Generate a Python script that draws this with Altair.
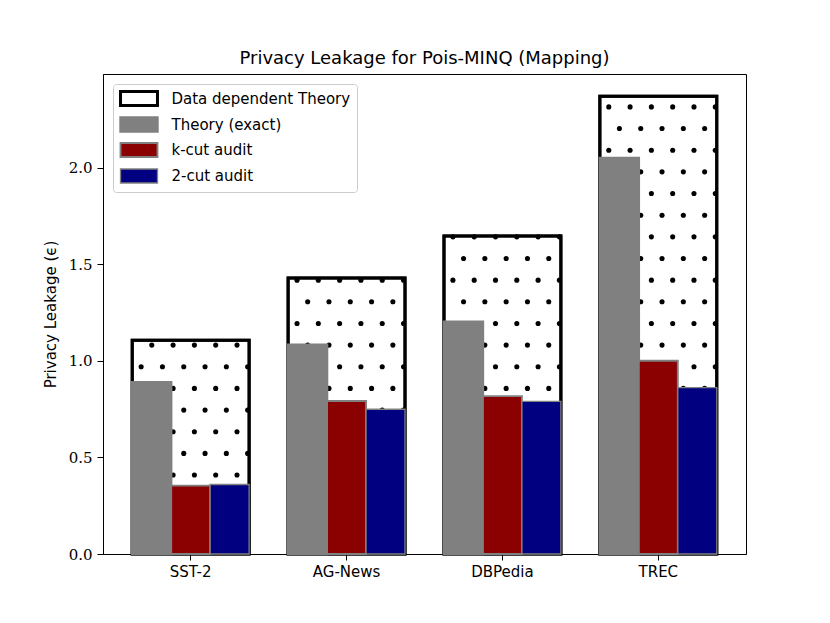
import altair as alt
import pandas as pd

categories = ["SST-2", "AG-News", "DBPedia", "TREC"]
series_names = ["Data dependent Theory", "Theory (exact)", "k-cut audit", "2-cut audit"]
data_dependent = [1.107, 1.430, 1.648, 2.372]
theory_exact = [0.890, 1.084, 1.204, 2.052]
kcut_audit = [0.354, 0.793, 0.818, 1.001]
twocut_audit = [0.360, 0.750, 0.791, 0.862]

fill_colors = ["white", "#808080", "#8b0000", "#000080"]
edge_colors = ["black", "#808080", "#808080", "#808080"]
edge_widths = [3, 1.3, 1.3, 1.3]

rows = []
for name, vals in zip(series_names, [data_dependent, theory_exact, kcut_audit, twocut_audit]):
    for c, v in zip(categories, vals):
        rows.append({"dataset": c, "series": name, "value": v})
df = pd.DataFrame(rows)

x_enc = alt.X("dataset:N", sort=categories, title=None,
              scale=alt.Scale(domain=categories, paddingInner=0.25, paddingOuter=0.1875),
              axis=alt.Axis(labelAngle=0, tickSize=6, labelPadding=4,
                            labelFont="DejaVu Sans", labelFontSize=15))
y_enc = alt.Y("value:Q", title="Privacy Leakage (ϵ)",
              scale=alt.Scale(domain=[0, 2.487], nice=False, zero=True),
              axis=alt.Axis(values=[0, 0.5, 1.0, 1.5, 2.0], format=".1f", tickSize=6,
                            labelPadding=5, labelFont="DejaVu Serif", labelFontSize=15,
                            titleFont="DejaVu Sans", titleFontSize=15, titleFontWeight="normal",
                            titlePadding=10))

fill_enc = alt.Fill("series:N", scale=alt.Scale(domain=series_names, range=fill_colors),
                    legend=alt.Legend(title=None))
stroke_enc = alt.Stroke("series:N", scale=alt.Scale(domain=series_names, range=edge_colors),
                        legend=alt.Legend(title=None))
sw_enc = alt.StrokeWidth("series:N", scale=alt.Scale(domain=series_names, range=edge_widths),
                         legend=alt.Legend(title=None))

base = alt.Chart(df)

outline_fill = base.transform_filter(
    alt.datum.series == series_names[0]
).mark_bar().encode(x=x_enc, y=y_enc, fill=fill_enc, stroke=stroke_enc, strokeWidth=sw_enc)

dots = base.transform_filter(
    alt.datum.series == series_names[0]
).transform_calculate(
    k="sequence(0, ceil((datum.value - 0.0725) / 0.1122) + 1)"
).transform_flatten(["k"]).transform_calculate(
    yd="0.0725 + datum.k * 0.1122"
).transform_filter("datum.yd < datum.value").transform_calculate(
    c="sequence(datum.k % 2, 11, 2)"
).transform_flatten(["c"]).transform_calculate(
    dx="9 + datum.c * 10.75"
).mark_circle(color="black", opacity=1, size=26).encode(
    x=x_enc,
    xOffset=alt.XOffset("dx:Q", scale=alt.Scale(domain=[0, 118])),
    y=alt.Y("yd:Q"),
)

outline_border = base.transform_filter(
    alt.datum.series == series_names[0]
).mark_bar(fillOpacity=0).encode(x=x_enc, y=y_enc, stroke=stroke_enc, strokeWidth=sw_enc)

bars = base.transform_filter(
    alt.datum.series != series_names[0]
).mark_bar().encode(
    x=x_enc,
    xOffset=alt.XOffset("series:N", sort=series_names[1:],
                        scale=alt.Scale(domain=series_names[1:], paddingInner=0, paddingOuter=0)),
    y=y_enc, fill=fill_enc, stroke=stroke_enc, strokeWidth=sw_enc,
)

chart = alt.layer(outline_fill, dots, outline_border, bars).resolve_scale(
    xOffset="independent"
).properties(
    width=643, height=480,
    background="white",
    title=alt.TitleParams("Privacy Leakage for Pois-MINQ (Mapping)", font="DejaVu Sans",
                          fontSize=18, fontWeight="normal", color="black", offset=6,
                          anchor="middle"),
    autosize=alt.AutoSizeParams(type="none"),
    padding={"left": 95, "top": 66, "right": 60, "bottom": 50},
).configure_view(
    stroke="black", strokeWidth=1
).configure_axis(
    grid=False, domainColor="black", tickColor="black", labelColor="black",
    titleColor="black", domainWidth=1, tickWidth=1
).configure_legend(
    orient="top-left", offset=10, padding=6, fillColor="rgba(255,255,255,0.8)",
    strokeColor="#cccccc", cornerRadius=3, labelFont="DejaVu Sans", labelFontSize=15,
    labelColor="black", symbolType="M-2.64,-1H2.64V1H-2.64Z", symbolSize=196,
    symbolOffset=11.5, labelOffset=24, rowPadding=0, symbolOpacity=1, labelLimit=400,
    gridAlign="all"
)

chart.save("out.html", embed_options={"renderer": "svg", "actions": False})
